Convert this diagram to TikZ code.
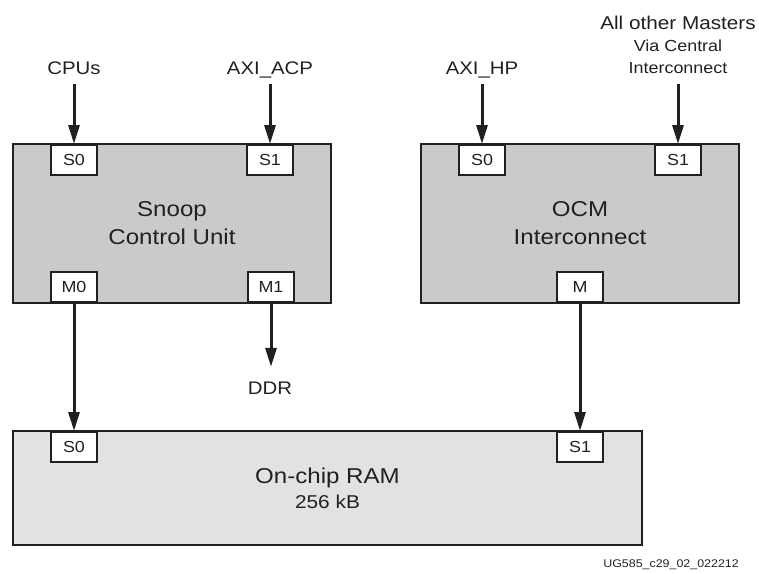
\documentclass[tikz,border=0pt]{standalone}
\usepackage{fontspec}
\setmainfont{Liberation Sans}[FakeStretch=1.12]
\usetikzlibrary{arrows.meta}
\definecolor{ink}{HTML}{231F20}
\definecolor{blockgray}{HTML}{C9CACC}
\definecolor{ramgray}{HTML}{E1E2E4}
\tikzset{
  block/.style={draw=ink,fill=blockgray,line width=2pt,inner sep=0pt,
    minimum width=318pt,minimum height=159pt,align=center,text=ink,
    font=\fontsize{21.5}{28}\selectfont},
  port/.style={draw=ink,fill=white,line width=2pt,inner sep=0pt,
    minimum width=46pt,minimum height=30pt,text=ink,
    font=\fontsize{16}{18}\selectfont},
  lbl/.style={ink,inner sep=1pt,text height=13pt,text depth=3pt,
    font=\fontsize{18.2}{22}\selectfont},
  bus/.style={ink,line width=3pt,-{Triangle[length=19pt,width=11pt]}},
}

\begin{document}
\begin{tikzpicture}[x=1pt,y=-1pt]
\useasboundingbox (0,0) rectangle (759,573);

% ---------------------------------------------------------------- blocks
\node[block] (scu) at (172,223.5) {Snoop\\Control Unit};
\node[block] (ocm) at (580,223.5) {OCM\\Interconnect};
\node[block,fill=ramgray,minimum width=629pt,minimum height=114pt,
      font=\fontsize{21.5}{25}\selectfont] (ram) at (327.5,488)
     {On-chip RAM\\{\fontsize{18.6}{25}\selectfont 256 kB}};

% ---------------------------------------------------------------- ports
\node[port,anchor=north] (scus0) at (74,144) {S0};
\node[port,anchor=north] (scus1) at (270,144) {S1};
\node[port,anchor=south] (scum0) at (74,303) {M0};
\node[port,anchor=south] (scum1) at (271,303) {M1};
\node[port,anchor=north] (ocms0) at (482,144) {S0};
\node[port,anchor=north] (ocms1) at (678,144) {S1};
\node[port,anchor=south] (ocmm) at (580,303) {M};
\node[port,anchor=north] (rams0) at (74,431) {S0};
\node[port,anchor=north] (rams1) at (580,431) {S1};

% ---------------------------------------------------------------- masters
\node[lbl,anchor=base] (cpus) at (74,74.5) {CPUs};
\node[lbl,anchor=base] (acp) at (270,74.5) {AXI\_ACP};
\node[lbl,anchor=base] (hp) at (482,74.5) {AXI\_HP};
\node[ink,inner sep=1pt,align=center,anchor=south,
      font=\fontsize{16}{22}\selectfont] (others) at (678,74.5)
     {{\fontsize{18.5}{22}\selectfont All other Masters}\\Via Central\\Interconnect};
\node[lbl,anchor=base] (ddr) at (270,394.5) {DDR};

% ---------------------------------------------------------------- buses
\draw[bus,shorten <=5.5pt] (cpus.south) -- (scus0.north);
\draw[bus,shorten <=5.5pt] (acp.south) -- (scus1.north);
\draw[bus,shorten <=5.5pt] (hp.south) -- (ocms0.north);
\draw[bus,shorten <=9.5pt] (others.south) -- (ocms1.north);
\draw[bus,shorten >=13.5pt] (scum1.south) -- (ddr.north -| scum1.south);
\draw[bus] (scum0.south) -- (rams0.north);
\draw[bus] (ocmm.south) -- (rams1.north);

% ---------------------------------------------------------------- figure id
\node[ink,inner sep=0pt,anchor=east,font=\fontsize{11.1}{13}\selectfont]
     (figid) at (739,565) {UG585\_c29\_02\_022212};

\end{tikzpicture}
\end{document}
